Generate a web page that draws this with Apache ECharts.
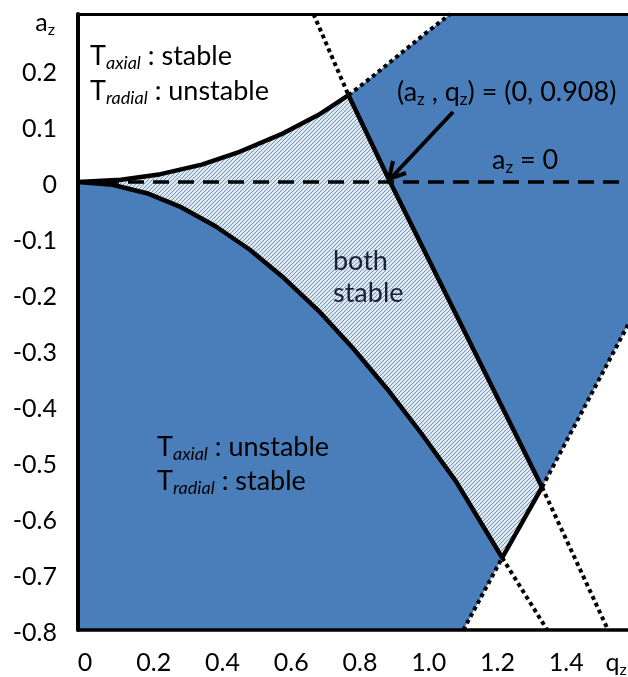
<!DOCTYPE html>
<html>
<head>
<meta charset="utf-8">
<script src="https://cdn.jsdelivr.net/npm/echarts@6/dist/echarts.min.js"></script>
<style>
  html, body { margin: 0; padding: 0; background: #fff; }
  #chart { width: 628px; height: 677px; }
</style>
</head>
<body>
<div id="chart"></div>
<script>
// Axis ranges and tick labels
const qRange = [0, 1.6];
const aRange = [-0.8, 0.3];
const xTickLabels = ['0', '0.2', '0.4', '0.6', '0.8', '1.0', '1.2', '1.4', 'qz'];
const yTickLabels = ['-0.8', '-0.7', '-0.6', '-0.5', '-0.4', '-0.3', '-0.2', '-0.1', '0', '0.1', '0.2', ''];
const yAxisName = ['a', 'z'];

// Radial stability edge through the origin (solid part, then dotted continuation)
const radialUpperSolid = [[0, 0], [0.125, 0.004], [0.24, 0.014], [0.36, 0.031], [0.47, 0.054], [0.59, 0.085], [0.70, 0.12], [0.787, 0.155]];
const radialUpperDotted = [[0.787, 0.155], [0.86, 0.19], [0.94, 0.23], [1.01, 0.265], [1.083, 0.3]];

// Axial upper stability edge (b1)
const axialUpperDottedTop = [[0.685, 0.3], [0.787, 0.155]];
const axialUpperSolid = [[0.787, 0.155], [0.908, 0], [1.35, -0.545]];
const axialUpperDottedBottom = [[1.35, -0.545], [1.542, -0.8]];

// Axial lower stability edge (a0)
const axialLowerSolid = [[0, 0], [0.1, -0.005], [0.2, -0.02], [0.3, -0.045], [0.4, -0.079], [0.5, -0.121], [0.6, -0.172], [0.7, -0.23], [0.8, -0.297], [0.9, -0.37], [1.0, -0.45], [1.1, -0.535], [1.234, -0.671]];
const axialLowerDotted = [[1.234, -0.671], [1.365, -0.8]];

// Radial lower stability edge
const radialLowerDottedBottom = [[1.121, -0.8], [1.234, -0.671]];
const radialLowerSolid = [[1.234, -0.671], [1.35, -0.545]];
const radialLowerDottedTop = [[1.35, -0.545], [1.6, -0.255]];

// a_z = 0 reference line
const zeroLine = [[0, 0], [1.6, 0]];

const rev = arr => arr.slice().reverse();

// Regions
const blueLower = [...axialLowerSolid, ...rev(radialLowerDottedBottom).slice(1), [qRange[0], aRange[0]]];
const blueRight = [...radialUpperDotted, [qRange[1], aRange[1]], ...rev(radialLowerDottedTop), ...rev(axialUpperSolid).slice(1)];
const bothStable = [...radialUpperSolid, ...axialUpperSolid.slice(1), ...rev(radialLowerSolid).slice(1), ...rev(axialLowerSolid).slice(1)];

const BLUE = '#4a7ebb';
const FONT = 'Lato';

// Diagonal hatch pattern
function hatchPattern() {
  const c = document.createElement('canvas');
  c.width = 4; c.height = 4;
  const g = c.getContext('2d');
  g.fillStyle = '#dde7f0';
  g.fillRect(0, 0, 4, 4);
  g.strokeStyle = '#6a8cab';
  g.lineWidth = 0.9;
  g.beginPath();
  g.moveTo(-1, 5); g.lineTo(5, -1);
  g.moveTo(-1, 1); g.lineTo(1, -1);
  g.moveTo(3, 5); g.lineTo(5, 3);
  g.stroke();
  return { image: c, repeat: 'repeat' };
}

function region(points, fill) {
  return {
    type: 'custom', silent: true, z: 1, data: [0], clip: true,
    renderItem: (params, api) => ({
      type: 'polygon',
      shape: { points: points.map(p => api.coord(p)) },
      style: { fill: fill, stroke: null }
    })
  };
}

function boundary(data, kind) {
  const styles = {
    solid: { width: 4.5, type: 'solid' },
    dotted: { width: 4, type: [4, 3.5] },
    dashed: { width: 3.5, type: [16, 9] }
  };
  const s = styles[kind];
  return {
    type: 'line', data: data, silent: true, z: 3,
    showSymbol: false, symbol: 'none',
    lineStyle: { color: '#000', width: s.width, type: s.type, cap: 'butt', join: 'round' }
  };
}

const labelRich = {
  n: { fontFamily: FONT, fontSize: 25, color: '#000', lineHeight: 30, padding: [5, 0, 0, 0] },
  nx: { fontFamily: FONT, fontSize: 25, color: '#000', lineHeight: 30, padding: [0, 0, 0, 14] },
  q: { fontFamily: FONT, fontSize: 25, color: '#000', lineHeight: 30 },
  qs: { fontFamily: FONT, fontSize: 16, color: '#000', lineHeight: 20, verticalAlign: 'bottom', padding: [0, 24, 0, 0] },
  a: { fontFamily: FONT, fontSize: 25, color: '#000', lineHeight: 30 },
  as: { fontFamily: FONT, fontSize: 16, color: '#000', lineHeight: 20, verticalAlign: 'bottom' }
};

const annRich = {
  T: { fontFamily: FONT, fontSize: 27, color: '#000', lineHeight: 32 },
  i: { fontFamily: FONT, fontSize: 18, fontStyle: 'italic', color: '#000', lineHeight: 22, verticalAlign: 'bottom' },
  n: { fontFamily: FONT, fontSize: 27, color: '#000', lineHeight: 32 },
  s: { fontFamily: FONT, fontSize: 17, color: '#000', lineHeight: 21, verticalAlign: 'bottom' }
};

function ann(x, y, text, color) {
  const rich = color ? { n: Object.assign({}, annRich.n, { fill: color, color: color }) } : annRich;
  return {
    type: 'text', x: x, y: y, silent: true, z: 20,
    style: { text: text, rich: rich, align: 'left', verticalAlign: 'middle' }
  };
}

const chart = echarts.init(document.getElementById('chart'), null, { renderer: 'canvas' });

chart.setOption({
  animation: false,
  backgroundColor: '#fff',
  grid: { left: 78, right: 0, top: 14, bottom: 47, containLabel: false, outerBoundsMode: 'none' },
  xAxis: [{
    type: 'value', min: qRange[0], max: qRange[1], interval: 0.2, z: 10,
    axisLine: { show: true, onZero: false, lineStyle: { color: '#000', width: 3.5 } },
    axisTick: { show: false }, splitLine: { show: false },
    axisLabel: {
      margin: 18, showMaxLabel: true,
      formatter: v => {
        const t = xTickLabels[Math.round(v / 0.2)];
        return t === 'qz' ? '{q|q}{qs|z}' : '{nx|' + t + '}';
      },
      rich: labelRich
    }
  }, {
    type: 'value', position: 'top', min: qRange[0], max: qRange[1], interval: 0.2, z: 10,
    axisLine: { show: true, onZero: false, lineStyle: { color: '#000', width: 3 } },
    axisTick: { show: false }, splitLine: { show: false }, axisLabel: { show: false }
  }],
  yAxis: {
    type: 'value', min: aRange[0], max: aRange[1], interval: 0.1, z: 10,
    name: '{a|' + yAxisName[0] + '}{as|' + yAxisName[1] + '}',
    nameLocation: 'end', nameGap: -9,
    nameTextStyle: { align: 'right', verticalAlign: 'middle', padding: [0, 23, 0, 0], rich: labelRich },
    axisLine: { show: true, onZero: false, lineStyle: { color: '#000', width: 4 } },
    axisTick: { show: false }, splitLine: { show: false },
    axisLabel: {
      margin: 21, showMaxLabel: true,
      formatter: v => {
        const t = yTickLabels[Math.round((v - aRange[0]) / 0.1)];
        return t ? '{n|' + t + '}' : '';
      },
      rich: labelRich
    }
  },
  series: [
    region(blueLower, BLUE),
    region(blueRight, BLUE),
    region(bothStable, hatchPattern()),
    boundary(zeroLine, 'dashed'),
    boundary(radialUpperSolid, 'solid'),
    boundary(radialUpperDotted, 'dotted'),
    boundary(axialUpperDottedTop, 'dotted'),
    boundary(axialUpperSolid, 'solid'),
    boundary(axialUpperDottedBottom, 'dotted'),
    boundary(axialLowerSolid, 'solid'),
    boundary(axialLowerDotted, 'dotted'),
    boundary(radialLowerDottedBottom, 'dotted'),
    boundary(radialLowerSolid, 'solid'),
    boundary(radialLowerDottedTop, 'dotted')
  ],
  graphic: [
    ann(90, 56, '{T|T}{i|axial}{n| : stable}'),
    ann(90, 91, '{T|T}{i|radial}{n| : unstable}'),
    ann(157, 447, '{T|T}{i|axial}{n| : unstable}'),
    ann(157, 481, '{T|T}{i|radial}{n| : stable}'),
    ann(397, 92, '{n|(a}{s|z}{n| , q}{s|z}{n|) = (0, 0.908)}'),
    ann(492, 160, '{n|a}{s|z}{n| = 0}'),
    ann(333, 261, '{n|both}', '#1b2038'),
    ann(333, 293, '{n|stable}', '#1b2038'),
    // arrow pointing at the crossing on a_z = 0
    {
      type: 'polyline', z: 30, silent: true,
      shape: { points: [[453, 112], [391, 178]] },
      style: { stroke: '#000', lineWidth: 4, fill: null }
    },
    {
      type: 'polyline', z: 30, silent: true,
      shape: { points: [[393, 161], [389, 179], [406, 173]] },
      style: { stroke: '#000', lineWidth: 4, fill: null, lineJoin: 'miter' }
    }
  ]
});
</script>
</body>
</html>
